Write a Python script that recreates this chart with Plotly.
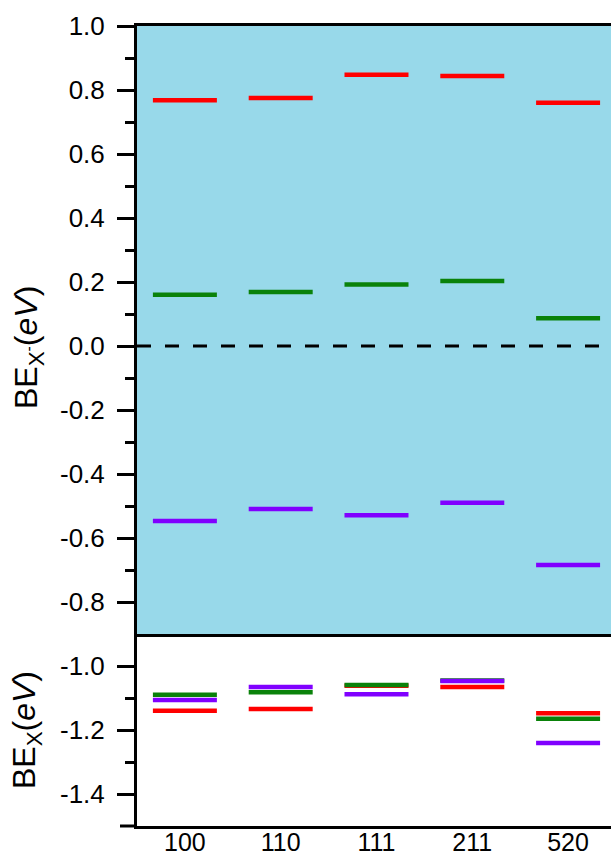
import plotly.graph_objects as go

categories = ["100", "110", "111", "211", "520"]

# Top panel: BE_X- (eV)
top_red = [0.768, 0.775, 0.848, 0.844, 0.760]
top_green = [0.160, 0.169, 0.192, 0.203, 0.087]
top_purple = [-0.547, -0.509, -0.529, -0.490, -0.684]

# Bottom panel: BE_X (eV)
bot_red = [-1.140, -1.134, -1.062, -1.066, -1.148]
bot_green = [-1.090, -1.082, -1.059, -1.045, -1.165]
bot_purple = [-1.106, -1.066, -1.088, -1.047, -1.241]

top_ticks = [-0.8, -0.6, -0.4, -0.2, 0.0, 0.2, 0.4, 0.6, 0.8, 1.0]
top_minor = [-0.7, -0.5, -0.3, -0.1, 0.1, 0.3, 0.5, 0.7, 0.9]
bot_ticks = [-1.0, -1.2, -1.4]
bot_minor = [-1.1, -1.3]

RED = "#FF0000"
GREEN = "#0A820A"
PURPLE = "#8000FF"
BG = "#98D9EA"
FONT = "Arial, Liberation Sans, sans-serif"
HALF = 0.334
TICKFS = 26
TITLEFS = 32


def seg(vals):
    xs, ys = [], []
    for i, v in enumerate(vals):
        xs += [i - HALF, i + HALF, None]
        ys += [v, v, None]
    return xs, ys


fig = go.Figure()

for vals, col in [(top_red, RED), (top_green, GREEN), (top_purple, PURPLE)]:
    xs, ys = seg(vals)
    fig.add_trace(go.Scatter(x=xs, y=ys, mode="lines", xaxis="x", yaxis="y",
                             line=dict(color=col, width=4.5), showlegend=False,
                             hoverinfo="skip"))
for vals, col in [(bot_red, RED), (bot_green, GREEN), (bot_purple, PURPLE)]:
    xs, ys = seg(vals)
    fig.add_trace(go.Scatter(x=xs, y=ys, mode="lines", xaxis="x2", yaxis="y2",
                             line=dict(color=col, width=4.5), showlegend=False,
                             hoverinfo="skip"))

xr = [-0.5, 4.448]
split = 192 / 800

axis_common = dict(showline=True, linecolor="black", linewidth=3,
                   showgrid=False, zeroline=False, automargin=False)

fig.update_layout(
    width=611, height=856,
    margin=dict(l=137, r=0, t=26, b=30, pad=0),
    paper_bgcolor="white", plot_bgcolor="white",
    font=dict(family=FONT, color="black", size=TICKFS),
    xaxis=dict(domain=[0, 1], range=xr, anchor="y", mirror=True,
               showticklabels=False, ticks="", **axis_common),
    yaxis=dict(domain=[split, 1], range=[-0.9, 1.0], anchor="x",
               tickvals=top_ticks, ticktext=[f"{t:.1f}" for t in top_ticks],
               ticks="outside", ticklen=17, tickwidth=3, tickcolor="black",
               ticklabelstandoff=7,
               minor=dict(tickvals=top_minor,
                          ticks="outside", ticklen=9, tickwidth=3, tickcolor="black"),
               tickfont=dict(size=TICKFS, family=FONT),
               **axis_common),
    xaxis2=dict(domain=[0, 1], range=xr, anchor="y2",
                tickvals=list(range(len(categories))), ticktext=categories,
                ticks="", ticklabelstandoff=-8,
                tickfont=dict(size=25, family=FONT),
                **axis_common),
    yaxis2=dict(domain=[0, split], range=[-1.5, -0.9], anchor="x2",
                tickvals=bot_ticks, ticktext=[f"{t:.1f}" for t in bot_ticks],
                ticks="outside", ticklen=17, tickwidth=3, tickcolor="black",
                ticklabelstandoff=7,
                minor=dict(tickvals=bot_minor,
                           ticks="outside", ticklen=9, tickwidth=3, tickcolor="black"),
                tickfont=dict(size=TICKFS, family=FONT),
                title=dict(text="BE<sub>X</sub>(<i>eV</i>)",
                           font=dict(size=TITLEFS, family=FONT), standoff=15),
                **axis_common),
    annotations=[
        dict(text="BE<sub>X<sup>-</sup></sub>(<i>eV</i>)", textangle=-90,
             xref="paper", yref="paper", x=0, y=(826 - 348) / 800,
             xanchor="center", yanchor="middle", xshift=-109, showarrow=False,
             font=dict(size=TITLEFS, family=FONT, color="black")),
    ],
    shapes=[
        dict(type="rect", xref="x domain", yref="y domain", x0=0, x1=1, y0=0, y1=1,
             fillcolor=BG, line=dict(width=0), layer="below"),
        dict(type="line", xref="x domain", yref="y", x0=0, x1=1, y0=0, y1=0,
             line=dict(color="black", width=3, dash="14px,14px"), layer="above"),
        # long tick at the bottom of the lower axis
        dict(type="line", xref="paper", yref="paper", xsizemode="pixel", xanchor=0,
             x0=-17, x1=0, y0=0, y1=0,
             line=dict(color="black", width=3), layer="above"),
    ],
)

fig.write_html("out.html", config={"displayModeBar": False},
               post_script="document.body.style.margin='0';")
